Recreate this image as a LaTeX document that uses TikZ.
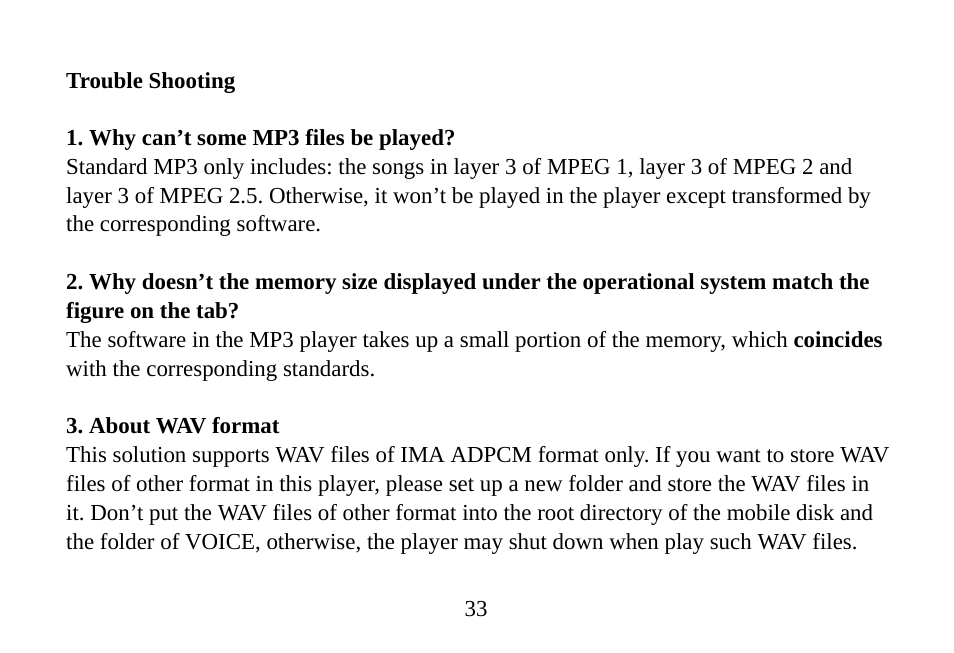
\documentclass[tikz,border=0pt]{standalone}
\usepackage{fontspec}
\setmainfont{Liberation Serif}
\begin{document}
\frenchspacing
\begin{tikzpicture}[x=1pt,y=-1pt,
  ln/.style={anchor=base west,inner sep=0pt,font=\fontsize{22.9}{26}\selectfont},
  hd/.style={ln,font=\fontsize{22.9}{26}\selectfont\bfseries}]
\useasboundingbox (0,0) rectangle (954,653);
\node[hd] (t0) at (66,88) {Trouble Shooting};
\node[hd] (h1) at (66,145) {1. Why can’t some MP3 files be played?};
\node[ln] (l1) at (66,174) {Standard MP3 only includes: the songs in layer 3 of MPEG 1, layer 3 of MPEG 2 and};
\node[ln] (l2) at (66,203) {layer 3 of MPEG 2.5. Otherwise, it won’t be played in the player except transformed by};
\node[ln] (l3) at (66,231) {the corresponding software.};
\node[hd] (h2) at (66,289) {2. Why doesn’t the memory size displayed under the operational system match the};
\node[hd] (h2b) at (66,318) {figure on the tab?};
\node[ln] (l4) at (66,347) {The software in the MP3 player takes up a small portion of the memory, which \textbf{coincides}};
\node[ln] (l5) at (66,376) {with the corresponding standards.};
\node[hd] (h3) at (66,433) {3. About WAV format};
\node[ln] (l6) at (66,462) {This solution supports WAV files of IMA ADPCM format only. If you want to store WAV};
\node[ln] (l7) at (66,491) {files of other format in this player, please set up a new folder and store the WAV files in};
\node[ln] (l8) at (66,520) {it. Don’t put the WAV files of other format into the root directory of the mobile disk and};
\node[ln] (l9) at (66,549) {the folder of VOICE, otherwise, the player may shut down when play such WAV files.};
\node[anchor=base,inner sep=0pt,font=\fontsize{22.9}{26}\selectfont] (pg) at (476,616) {33};
\end{tikzpicture}
\end{document}
